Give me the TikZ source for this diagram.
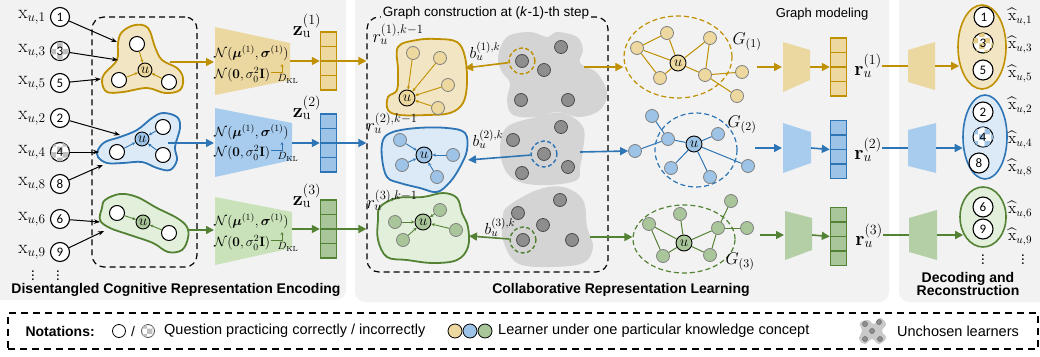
\RequirePackage{fix-cm}
\documentclass[tikz,border=0pt]{standalone}
\usepackage{amsmath}
\usepackage{bm}
\usepackage[no-math]{fontspec}
\setmainfont{Liberation Sans}
\newfontfamily\carl{Carlito}
\usetikzlibrary{arrows.meta,patterns,shapes.geometric,calc}
\definecolor{gold}{HTML}{BF9000}
\definecolor{blu}{HTML}{2E75B6}
\definecolor{grn}{HTML}{548235}
\definecolor{panel}{HTML}{F2F2F2}
\definecolor{yblob}{HTML}{F2E5C3}
\definecolor{bblob}{HTML}{DCEAF7}
\definecolor{gblob}{HTML}{E2EFDA}
\definecolor{ytrap}{HTML}{EBD7A0}
\definecolor{btrap}{HTML}{A8CCEE}
\definecolor{gtrapl}{HTML}{C9E2B9}
\definecolor{gtrap}{HTML}{B4CEA5}
\definecolor{ynode}{HTML}{EDD9A0}
\definecolor{bnode}{HTML}{9DC3E6}
\definecolor{gnode}{HTML}{A9C69A}
\definecolor{grayblob}{HTML}{D4D4D4}
\definecolor{graynode}{HTML}{8E8E8E}
\newcommand{\fsz}[1]{\fontsize{#1}{#1}\selectfont}
\newcommand{\vcells}[4]{%
  \foreach \i in {0,1,2,3}{\draw[#3, fill=#4, line width=1.5pt] ({#1-8},{#2+\i*14.5}) rectangle ({#1+8},{#2+\i*14.5+14.5});}}
\begin{document}
\begin{tikzpicture}[x=1pt,y=-1pt,
  q/.style={circle,draw=black,line width=1.1pt,fill=white,minimum size=19pt,inner sep=0pt,font=\carl\fsz{13}},
  qx/.style={q,postaction={pattern=checkerboard,pattern color=gray!50}},
  wn/.style={circle,draw=black,line width=1pt,fill=white,minimum size=15pt,inner sep=0pt},
  un/.style={circle,draw=black,line width=0.9pt,minimum size=14pt,inner sep=0pt,font=\fsz{15}},
  ln/.style={circle,draw=black!50,line width=0.8pt,minimum size=13pt,inner sep=0pt},
  gn/.style={circle,draw=black!70,fill=graynode,line width=0.8pt,minimum size=13pt,inner sep=0pt},
  ringn/.style={circle,dash pattern=on 4pt off 2.5pt,line width=1.4pt,minimum size=26pt,inner sep=0pt},
  inarr/.style={-{Stealth[length=6pt,width=4.5pt]},line width=1pt,black},
  sarr/.style={-{Stealth[length=3.5pt,width=3pt]},line width=0.9pt},
  bigarr/.style={-{Triangle[length=8pt,width=8pt]},line width=1.6pt},
  eline/.style={line width=1pt},
  lab/.style={inner sep=0pt,font=\fsz{18}},
  blobline/.style={line width=1.8pt},
  vnode/.style={inner sep=0pt,minimum width=17pt,minimum height=58pt},
  dbox/.style={draw,dash pattern=on 6pt off 4pt,line width=1.2pt,rounded corners=12pt,inner sep=0pt},
  gell/.style={ellipse,dash pattern=on 5pt off 3pt,line width=1.2pt,inner sep=0pt},
]
\useasboundingbox (0,0) rectangle (1040,356);
% panels
\fill[panel,rounded corners=10pt] (-12,-12) rectangle (346,300);
\fill[panel,rounded corners=10pt] (355,-12) rectangle (889,302);
\fill[panel,rounded corners=10pt] (899,-12) rectangle (1055,302);

% ---------------- left panel ----------------
\node[dbox,minimum width=105pt,minimum height=250pt] (ldb) at (144.5,142) {};
\draw[gold,blobline,fill=yblob] plot[smooth cycle,tension=0.6] coordinates {(102,82) (105,73) (117,60) (118,43) (122,32) (135,25) (148,28) (155,47) (162,60) (177,68) (183,78) (180,90) (165,93) (147,88) (123,92) (107,92)};
\draw[blu,blobline,fill=bblob] plot[smooth cycle,tension=0.6] coordinates {(98,150) (105,142) (120,137) (137,130) (152,118) (163,113) (177,117) (180,128) (175,147) (177,160) (170,170) (157,168) (142,162) (123,163) (107,163) (98,157)};
\draw[grn,blobline,fill=gblob] plot[smooth cycle,tension=0.6] coordinates {(100,220) (102,208) (105,200) (120,194) (137,197) (157,208) (177,218) (187,227) (188,238) (182,250) (168,252) (153,243) (130,235) (110,228)};
\node[wn] (ya) at (137,44) {};
\node[wn] (yb) at (119,80) {};
\node[wn] (yc) at (169,82) {};
\node[un,fill=ynode] (yu) at (145,70) {$u$};
\foreach \s in {ya,yb,yc} \draw[sarr,gold] (\s) -- (yu);
\node[wn] (ba) at (163,127) {};
\node[wn] (bb) at (117,152) {};
\node[wn] (bc) at (163,155) {};
\node[un,fill=bnode] (bu) at (142,139) {$u$};
\foreach \s in {ba,bb,bc} \draw[sarr,blu] (\s) -- (bu);
\node[wn] (ga) at (117,213) {};
\node[wn] (gb) at (169,233) {};
\node[un,fill=gnode] (gu) at (143,222) {$u$};
\foreach \s in {ga,gb} \draw[sarr,grn] (\s) -- (gu);

\foreach \n/\y/\st in {1/17/q,3/51/qx,5/83/q,2/118/q,4/152/qx,8/184/q,6/219/q,9/252/q} {
  \node[\st] (q\n) at (60,\y) {\n};
  \node[lab,font=\fsz{19}] (x\n) at (32,\y) {$\mathrm{x}_{u,\n}$};
}
\coordinate (a1) at (117,42); \coordinate (a3) at (118,60); \coordinate (a5) at (101,79);
\coordinate (a2) at (120,135); \coordinate (a4) at (99,152); \coordinate (a8) at (103,165);
\coordinate (a6) at (100,222); \coordinate (a9) at (104,231);
\foreach \n in {1,3,5,2,4,8,6,9} \draw[inarr] (q\n) -- (a\n);
\node[lab,font=\fsz{15}] (ldots1) at (33,273) {$\vdots$};
\node[lab,font=\fsz{15}] (ldots2) at (58,273) {$\vdots$};

% encoder trapezoids
\fill[ytrap] (215,27) -- (290,43) -- (290,80) -- (215,95) -- cycle;
\fill[btrap] (215,108) -- (292,123) -- (292,160) -- (215,177) -- cycle;
\fill[gtrapl] (215,197) -- (292,212) -- (292,248) -- (215,265) -- cycle;
\foreach \c/\ya/\yb in {gold/53/75, blu/132/153, grn/221/243} {
  \node[anchor=west,inner sep=0pt,font=\fsz{13.5}] at (214,\ya) {$\mathcal{N}(\bm{\mu}^{(1)},\bm{\sigma}^{(1)})$};
  \node[anchor=west,inner sep=0pt,font=\fsz{13.5}] at (214,\yb) {$\mathcal{N}(\mathbf{0},\sigma_0^2\mathbf{I})$};
  \draw[\c,-{Stealth[length=3pt,width=3pt]},line width=0.8pt] (271,\yb-3) -| (282,\yb-11);
  \node[inner sep=0pt,font=\fsz{10.5}] at (288,\yb+4) {$D_{\mathrm{KL}}$};
}
% vectors z
\node[vnode] (v1) at (328.5,61) {};
\node[vnode] (v2) at (328.5,143) {};
\node[vnode] (v3) at (328.5,229) {};
\vcells{328.5}{32}{gold}{ynode}
\vcells{328.5}{114}{blu}{bnode}
\vcells{328.5}{200}{grn}{gnode}
\node[lab,font=\fsz{20}] (z1) at (307,26) {$\mathbf{z}_{\mathrm{u}}^{(1)}$};
\node[lab,font=\fsz{20}] (z2) at (307,108) {$\mathbf{z}_{\mathrm{u}}^{(2)}$};
\node[lab,font=\fsz{20}] (z3) at (307,196) {$\mathbf{z}_{\mathrm{u}}^{(3)}$};

\coordinate (yo) at (170,62); \coordinate (t1w) at (214,62); \coordinate (t1e) at (290,61);
\coordinate (bo) at (168,143); \coordinate (t2w) at (214,143); \coordinate (t2e) at (292,143);
\coordinate (go) at (188,230); \coordinate (t3w) at (214,230); \coordinate (t3e) at (292,229);
\draw[bigarr,gold] (yo) -- (t1w);
\draw[bigarr,gold] (t1e) -- (v1.west);
\draw[bigarr,blu] (bo) -- (t2w);
\draw[bigarr,blu] (t2e) -- (v2.west);
\draw[bigarr,grn] (go) -- (t3w);
\draw[bigarr,grn] (t3e) -- (v3.west);

% ---------------- middle panel ----------------
\node[dbox,minimum width=241pt,minimum height=255pt] (gc) at (487.5,144.5) {};
\node[fill=panel,inner sep=2pt,font=\fsz{13.5}] (gct) at (486,13) {Graph construction at (\textit{k}-1)-th step};
\draw[bigarr,gold] (v1.east) -- (v1.east -| gc.west);
\draw[bigarr,blu] (v2.east) -- (v2.east -| gc.west);
\draw[bigarr,grn] (v3.east) -- (v3.east -| gc.west);

% gray blobs
\fill[grayblob] plot[smooth cycle,tension=0.6] coordinates {(498,57) (507,37) (530,32) (547,37) (557,32) (577,37) (583,50) (580,63) (597,73) (607,93) (600,110) (580,117) (557,112) (537,117) (513,115) (507,100) (510,83) (502,72)};
\fill[grayblob] plot[smooth cycle,tension=0.6] coordinates {(500,150) (507,127) (537,117) (563,113) (583,127) (583,150) (580,167) (577,180) (550,185) (523,183) (507,173)};
\fill[grayblob] plot[smooth cycle,tension=0.6] coordinates {(503,220) (507,207) (537,190) (563,187) (583,200) (587,227) (593,247) (583,263) (550,267) (517,263) (503,240)};
\foreach \p/\x/\y in {p1b/561/47,p1c/544/70,p1d/521/100,p1e/568/100,p2a/513/140,p2b/561/127,p2d/522/173,p2e/568/167,p3a/518/213,p3b/560/200,p3c/543/225,p3d/572/240}
  \node[gn] (\p) at (\x,\y) {};
\node[gn] (p1a) at (522,61) {};
\node[gn] (p2c) at (544,154) {};
\node[gn] (p3e) at (523,240) {};
\node[ringn,draw=gold] (rg1) at (522,61) {};
\node[ringn,draw=blu] (rg2) at (544,154) {};
\node[ringn,draw=grn] (rg3) at (523,240) {};

% learner blobs (middle)
\draw[gold,blobline,fill=yblob] plot[smooth cycle,tension=0.6] coordinates {(398,47) (417,40) (437,39) (457,42) (465,57) (467,83) (463,103) (450,113) (427,115) (400,115) (388,110) (388,97) (397,90) (398,70)};
\draw[blu,blobline,fill=bblob] plot[smooth cycle,tension=0.6] coordinates {(383,140) (393,132) (417,128) (447,128) (465,133) (467,150) (460,167) (450,182) (437,192) (420,188) (400,183) (387,177) (382,158)};
\draw[grn,blobline,fill=gblob] plot[smooth cycle,tension=0.6] coordinates {(380,207) (397,198) (423,197) (443,193) (457,198) (462,213) (468,227) (468,247) (457,260) (433,263) (407,260) (387,257) (378,240) (378,220)};
\node[un,fill=ynode,minimum size=16pt] (u1m) at (407,98) {$u$};
\foreach \p/\x/\y in {y1a/413/53,y1b/440/58,y1c/448/85,y1d/438/108} {
  \node[ln,fill=ynode] (\p) at (\x,\y) {};
  \draw[sarr,gold] (\p) -- (u1m);
}
\node[un,fill=bnode,minimum size=16pt] (u2m) at (424,155) {$u$};
\foreach \p/\x/\y in {b1a/400/140,b1b/402/165,b1c/437/177,b1d/453/155} {
  \node[ln,fill=bnode] (\p) at (\x,\y) {};
  \draw[sarr,blu] (\p) -- (u2m);
}
\node[un,fill=gnode,minimum size=16pt] (u3m) at (423,222) {$u$};
\foreach \p/\x/\y in {g1a/440/210,g1b/395/222,g1c/403/240,g1d/456/230} {
  \node[ln,fill=gnode] (\p) at (\x,\y) {};
  \draw[sarr,grn] (\p) -- (u3m);
}
\node[lab] (r1l) at (398,34) {$r_u^{(1),k-1}$};
\node[lab] (r2l) at (392,123) {$r_u^{(2),k-1}$};
\node[lab] (r3l) at (392,200) {$r_u^{(3),k-1}$};
\node[lab,font=\fsz{16}] (b1l) at (485,51) {$b_u^{(1),k}$};
\node[lab,font=\fsz{16}] (b2l) at (488,139) {$b_u^{(2),k}$};
\node[lab,font=\fsz{16}] (b3l) at (500,227) {$b_u^{(3),k}$};
\coordinate (ry1) at (465,68);
\coordinate (ry2) at (468,160);
\coordinate (ry3) at (469,236);
\draw[bigarr,gold] (rg1) -- (ry1);
\draw[bigarr,blu] (rg2) -- (ry2);
\draw[bigarr,grn] (rg3) -- (ry3);

% graphs G
\node[gell,draw=gold,minimum width=108pt,minimum height=82pt] (G1) at (678,57) {};
\node[gell,draw=blu,minimum width=82pt,minimum height=74pt] (G2) at (696,150) {};
\node[gell,draw=grn,minimum width=102pt,minimum height=68pt] (G3) at (684,239) {};
\foreach \p/\x/\y in {n1a/637/48,n1b/667/33,n1c/710/38,n1d/660/78,n1e/705/75,n1f/742/72,n1g/737/96}
  \node[ln,fill=ynode] (\p) at (\x,\y) {};
\node[un,fill=ynode,minimum size=16pt] (u1g) at (678,63) {$u$};
\foreach \a/\b in {n1a/n1b,n1a/u1g,n1a/n1d,n1b/u1g,n1d/u1g,u1g/n1c,n1c/n1e,u1g/n1e,n1e/n1f,n1e/n1g}
  \draw[gold,eline] (\a) -- (\b);
\foreach \p/\x/\y in {m1/652/116,m2/635/151,m3/668/139,m4/718/134,m5/671/168,m6/710/177,m7/748/166}
  \node[ln,fill=bnode] (\p) at (\x,\y) {};
\node[un,fill=bnode,minimum size=16pt] (u2g) at (694,144) {$u$};
\foreach \a/\b in {m1/m3,m2/m3,m3/u2g,u2g/m4,u2g/m5,u2g/m6,u2g/m7}
  \draw[blu,eline] (\a) -- (\b);
\foreach \p/\x/\y in {k1/649/224,k2/680/214,k3/731/201,k4/718/228,k5/747/228,k6/663/256,k7/710/255}
  \node[ln,fill=gnode] (\p) at (\x,\y) {};
\node[un,fill=gnode,minimum size=16pt] (u3g) at (684,243) {$u$};
\foreach \a/\b in {k1/u3g,k1/k6,k2/u3g,u3g/k4,u3g/k6,u3g/k7,k4/k7,k4/k3,k4/k5}
  \draw[grn,eline] (\a) -- (\b);
\node[lab,font=\fsz{17}] (G1l) at (747,42) {$G_{(1)}$};
\node[lab,font=\fsz{17}] (G2l) at (742,125) {$G_{(2)}$};
\node[lab,font=\fsz{17}] (G3l) at (740,262) {$G_{(3)}$};

\coordinate (ge1) at (584,67); \coordinate (ge2) at (580,152); \coordinate (ge3) at (590,237);
\draw[bigarr,gold] (ge1) -- (G1.west |- ge1);
\draw[bigarr,blu] (ge2) -- (m2.west);
\draw[bigarr,grn] (ge3) -- (G3.west |- ge3);

% graph modeling
\node[font=\fsz{13}] (gmt) at (822,14) {Graph modeling};
\fill[ytrap] (783,42) -- (810,50) -- (810,80) -- (783,92) -- cycle;
\fill[btrap] (783,123) -- (811,132) -- (811,163) -- (783,173) -- cycle;
\fill[gtrap] (785,211) -- (812,218) -- (812,250) -- (785,260) -- cycle;
\coordinate (gm1s) at (757,67); \coordinate (gm1w) at (782,67); \coordinate (gm1e) at (810,67);
\coordinate (gm2s) at (755,148); \coordinate (gm2w) at (782,148); \coordinate (gm2e) at (811,148);
\coordinate (gm3s) at (760,235); \coordinate (gm3w) at (784,235); \coordinate (gm3e) at (812,235);
\node[vnode] (vr1) at (838.5,67) {};
\node[vnode] (vr2) at (838.5,149.5) {};
\node[vnode] (vr3) at (838.5,236.5) {};
\vcells{838.5}{38}{gold}{ynode}
\vcells{838.5}{120.5}{blu}{bnode}
\vcells{838.5}{207.5}{grn}{gnode}
\draw[bigarr,gold] (gm1s) -- (gm1w);
\draw[bigarr,gold] (gm1e) -- (vr1.west);
\draw[bigarr,blu] (gm2s) -- (gm2w);
\draw[bigarr,blu] (gm2e) -- (vr2.west);
\draw[bigarr,grn] (gm3s) -- (gm3w);
\draw[bigarr,grn] (gm3e) -- (vr3.west);
\node[lab,font=\fsz{20}] (rr1) at (868,66) {$\mathbf{r}_{u}^{(1)}$};
\node[lab,font=\fsz{20}] (rr2) at (868,150) {$\mathbf{r}_{u}^{(2)}$};
\node[lab,font=\fsz{20}] (rr3) at (869,236) {$\mathbf{r}_{u}^{(3)}$};

% section titles
\node[font=\bfseries\fsz{14}] (t1) at (176,290) {Disentangled Cognitive Representation Encoding};
\node[font=\bfseries\fsz{14}] (t2) at (621,290) {Collaborative Representation Learning};
\node[font=\bfseries\fsz{14},align=center] (t3) at (968,284) {Decoding and\\[-1pt]Reconstruction};

% ---------------- right panel ----------------
\fill[ytrap] (908,50) -- (935,42) -- (935,90) -- (908,82) -- cycle;
\fill[btrap] (908,130) -- (936,123) -- (936,173) -- (908,166) -- cycle;
\fill[gtrap] (909,218) -- (937,210) -- (937,260) -- (909,252) -- cycle;
\coordinate (d1w) at (908,66); \coordinate (d1e) at (935,66);
\coordinate (d2w) at (908,148); \coordinate (d2e) at (936,148);
\coordinate (d3w) at (909,235); \coordinate (d3e) at (937,235);
\draw[gold,line width=1.6pt] (rr1.east |- d1w) -- (d1w);
\draw[blu,line width=1.6pt] (rr2.east |- d2w) -- (d2w);
\draw[grn,line width=1.6pt] (rr3.east |- d3w) -- (d3w);
\node[ellipse,draw=gold,fill=yblob,line width=1.6pt,minimum width=48pt,minimum height=84pt,inner sep=0pt] (E1) at (982,47) {};
\node[ellipse,draw=blu,fill=bblob,line width=1.6pt,minimum width=44pt,minimum height=84pt,inner sep=0pt] (E2) at (985,137) {};
\node[ellipse,draw=grn,fill=gblob,line width=1.6pt,minimum width=46pt,minimum height=60pt,inner sep=0pt] (E3) at (983,217) {};
\draw[bigarr,gold] (d1e) -- ($(E1.west |- d1e)+(2,0)$);
\draw[bigarr,blu] (d2e) -- ($(E2.west |- d2e)+(0.5,0)$);
\draw[bigarr,grn] (d3e) -- ($(E3.west |- d3e)+(4,0)$);
\node[q,minimum size=20pt] (o1) at (984,17) {1};
\node[q,minimum size=20pt,postaction={pattern=checkerboard,pattern color=ynode!85!gold}] (o3) at (983,43) {3};
\node[q,minimum size=20pt] (o5) at (983,70) {5};
\node[q,minimum size=20pt] (o2) at (983,112) {2};
\node[q,minimum size=20pt,postaction={pattern=checkerboard,pattern color=bnode}] (o4) at (983,137) {4};
\node[q,minimum size=20pt] (o8) at (979,163) {8};
\node[q,minimum size=20pt] (o6) at (983,207) {6};
\node[q,minimum size=20pt] (o9) at (983,229) {9};
\foreach \n/\y in {1/17,3/45,5/74,2/106,4/140,8/168,6/210,9/237}
  \node[lab,font=\fsz{16},anchor=west] (h\n) at (1008,\y) {$\widehat{\mathrm{x}}_{u,\n}$};
\node[lab,font=\fsz{15}] (rdots1) at (983,257) {$\vdots$};
\node[lab,font=\fsz{15}] (rdots2) at (1023,257) {$\vdots$};

% ---------------- notation ----------------
\node[draw,dash pattern=on 7pt off 5pt,line width=1.6pt,minimum width=1030pt,minimum height=36pt,inner sep=0pt] (nbox) at (523,331) {};
\node[anchor=west,font=\bfseries\fsz{14}] (nt) at (22,331) {Notations:};
\node[circle,draw=black,line width=0.8pt,fill=white,minimum size=13pt,inner sep=0pt] (nw) at (119,331) {};
\node[font=\fsz{14}] (nsl) at (133,331) {/};
\node[circle,draw=black!70,line width=0.8pt,fill=white,minimum size=13pt,inner sep=0pt,postaction={pattern=checkerboard,pattern color=gray!50}] (nc) at (148,331) {};
\node[anchor=west,font=\fsz{14.5},inner sep=0pt] (nq) at (164,331) {Question practicing correctly / incorrectly};
\node[circle,draw=black,line width=0.8pt,fill=ynode,minimum size=14pt,inner sep=0pt] (ny) at (455,331) {};
\node[circle,draw=black,line width=0.8pt,fill=bnode,minimum size=14pt,inner sep=0pt] (nb) at (470,331) {};
\node[circle,draw=black,line width=0.8pt,fill=gnode,minimum size=14pt,inner sep=0pt] (ng) at (485,331) {};
\node[anchor=west,font=\fsz{14.5},inner sep=0pt] (nl) at (498,331) {Learner under one particular knowledge concept};
\fill[grayblob!95!black] plot[smooth cycle,tension=0.7] coordinates {(860,323) (868,320) (874,324) (880,318) (886,324) (882,331) (886,338) (879,344) (872,339) (865,344) (859,339) (862,331)};
\foreach \p/\x/\y in {ic1/865/324,ic2/879/322,ic3/872/331,ic4/865/339,ic5/880/339}
  \node[circle,draw=black!60,fill=graynode,line width=0.5pt,minimum size=5pt,inner sep=0pt] (\p) at (\x,\y) {};
\node[anchor=west,font=\fsz{14.5},inner sep=0pt] (nu) at (897,331) {Unchosen learners};
\end{tikzpicture}
\end{document}
